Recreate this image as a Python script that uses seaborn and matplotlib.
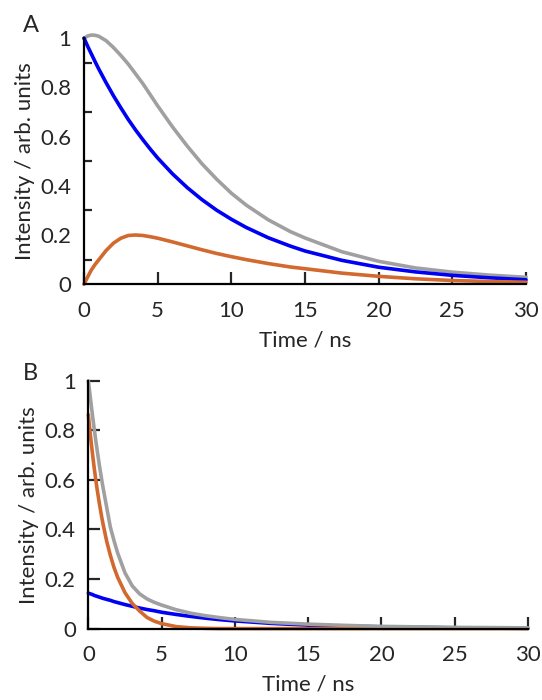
import numpy as np
import pandas as pd
import matplotlib
matplotlib.use('Agg')
import matplotlib.pyplot as plt
import seaborn as sns
from matplotlib.ticker import FixedLocator

# ====== DATA

time_a = [0, 0.25, 0.5, 0.75, 1, 1.5, 2, 2.5, 3, 3.5, 4, 4.5, 5, 6, 7, 8, 9, 10, 11, 12.5, 14, 15,
          17.5, 20, 22.5, 25, 27.5, 30]
blue_a = [1.0, 0.967, 0.936, 0.905, 0.875, 0.819, 0.766, 0.717, 0.670, 0.627, 0.587, 0.549, 0.513,
          0.449, 0.393, 0.344, 0.301, 0.264, 0.231, 0.189, 0.155, 0.135, 0.097, 0.069, 0.050, 0.036,
          0.026, 0.018]
orange_a = [0, 0.030, 0.058, 0.080, 0.099, 0.137, 0.167, 0.187, 0.198, 0.200, 0.198, 0.193, 0.187,
            0.172, 0.156, 0.140, 0.125, 0.112, 0.100, 0.084, 0.070, 0.063, 0.045, 0.032, 0.022, 0.015,
            0.011, 0.008]
gray_a = [1.0, 1.009, 1.013, 1.012, 1.008, 0.990, 0.962, 0.930, 0.895, 0.855, 0.815, 0.770, 0.725,
          0.640, 0.562, 0.490, 0.427, 0.370, 0.322, 0.262, 0.214, 0.188, 0.132, 0.093, 0.066, 0.049,
          0.037, 0.028]

time_b = [0, 0.1, 0.2, 0.3, 0.4, 0.5, 0.6, 0.75, 0.9, 1, 1.25, 1.5, 1.75, 2, 2.5, 3, 3.5, 4, 4.5, 5,
          6, 7, 8, 9, 10, 12.5, 15, 17.5, 20, 25, 30]
blue_b = [0.143, 0.141, 0.139, 0.137, 0.134, 0.132, 0.130, 0.127, 0.124, 0.122, 0.118, 0.114, 0.109,
          0.105, 0.097, 0.090, 0.083, 0.077, 0.072, 0.066, 0.057, 0.049, 0.042, 0.036, 0.031, 0.021,
          0.014, 0.010, 0.007, 0.003, 0.001]
orange_b = [0.863, 0.803, 0.748, 0.697, 0.648, 0.604, 0.562, 0.506, 0.454, 0.423, 0.353, 0.296, 0.247,
            0.207, 0.145, 0.101, 0.071, 0.045, 0.030, 0.020, 0.008, 0.003, 0.001, 0, 0, 0,
            0, 0, 0, 0, 0]
gray_b = [1.0, 0.95, 0.90, 0.852, 0.806, 0.762, 0.72, 0.66, 0.605, 0.57, 0.49, 0.41, 0.355,
          0.305, 0.225, 0.172, 0.14, 0.12, 0.106, 0.095, 0.076, 0.062, 0.052, 0.044, 0.037, 0.025,
          0.018, 0.013, 0.009, 0.005, 0.003]

x_ticks = [0, 5, 10, 15, 20, 25, 30]
y_labels = [0, 0.2, 0.4, 0.6, 0.8, 1]
y_minor_a = [0.1, 0.3, 0.5, 0.7, 0.9]

# ====== STYLE

sns.set_style('white')
plt.rcParams['font.family'] = ['Lato', 'DejaVu Sans']

BLUE = '#0000F5'
ORANGE = '#D2692F'
GRAY = '#A0A0A0'
LW = 2.6
TICK_FS = 16
LABEL_FS = 16


def style_axes(ax, panel_b):
    for s in ['top', 'right']:
        ax.spines[s].set_visible(False)
    for s in ['left', 'bottom']:
        ax.spines[s].set_linewidth(1.6)
        ax.spines[s].set_color('black')
    ax.set_xlim(0, 30)
    ax.set_ylim(0, 1)
    ax.xaxis.set_major_locator(FixedLocator(x_ticks))
    ax.set_xticklabels([str(t) for t in x_ticks])
    ax.yaxis.set_major_locator(FixedLocator(y_labels))
    ax.set_yticklabels([f'{v:g}' for v in y_labels])
    ax.tick_params(axis='x', bottom=True, direction='in', length=8.5, width=1.6, pad=12,
                   labelsize=TICK_FS)
    if panel_b:
        ax.tick_params(axis='y', left=True, direction='in', length=8.5, width=1.6, pad=9,
                       labelsize=TICK_FS)
    else:
        ax.tick_params(axis='y', which='major', left=True, direction='in', length=0, pad=9,
                       labelsize=TICK_FS)
        ax.yaxis.set_minor_locator(FixedLocator(y_minor_a))
        ax.tick_params(axis='y', which='minor', left=True, direction='in', length=6, width=1.6)
    ax.set_xlabel('Time / ns', fontsize=LABEL_FS, labelpad=7)
    ax.set_ylabel('Intensity / arb. units', fontsize=LABEL_FS, labelpad=4)
    ax.grid(False)


fig = plt.figure(figsize=(5.42, 7.0), dpi=100)

# ====== PANEL A
ax1 = fig.add_axes([0.155, 0.594, 0.8155, 0.3514])
for y, c in [(gray_a, GRAY), (blue_a, BLUE), (orange_a, ORANGE)]:
    sns.lineplot(x=time_a, y=y, color=c, lw=LW, ax=ax1, clip_on=False)
style_axes(ax1, False)
fig.text(0.057, 0.963, 'A', fontsize=17, ha='center', va='center')

# ====== PANEL B
ax2 = fig.add_axes([0.163, 0.102, 0.811, 0.354])
for y, c in [(blue_b, BLUE), (orange_b, ORANGE), (gray_b, GRAY)]:
    sns.lineplot(x=time_b, y=y, color=c, lw=LW, ax=ax2, clip_on=False)
style_axes(ax2, True)
fig.text(0.057, 0.467, 'B', fontsize=17, ha='center', va='center')

fig.savefig('out.png', dpi=100)
plt.close()
